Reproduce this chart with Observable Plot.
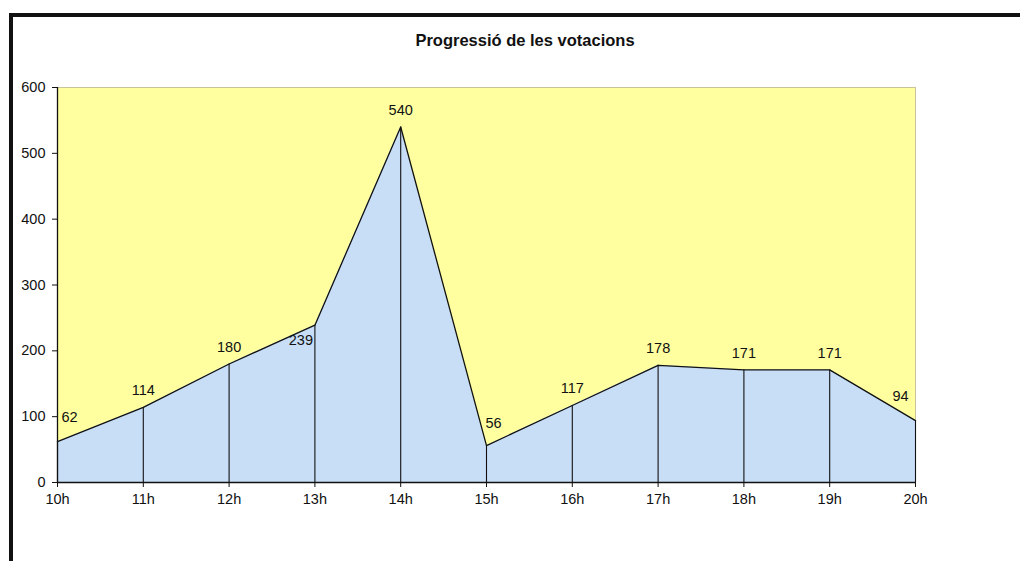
<!DOCTYPE html>
<html>
<head>
<meta charset="utf-8">
<script src="https://cdn.jsdelivr.net/npm/d3@7"></script>
<script src="https://cdn.jsdelivr.net/npm/@observablehq/plot@0.6"></script>
<style>
  html, body { margin: 0; padding: 0; background: #fff; }
  #wrap { position: relative; width: 1020px; height: 561px; overflow: hidden; font-family: "Liberation Sans", Arial, sans-serif; }
  #border { position: absolute; left: 9px; top: 13px; width: 1100px; height: 600px; border-left: 4px solid #111; border-top: 4px solid #111; }
  #title { position: absolute; left: 10px; width: 1030px; top: 30px; text-align: center; font-weight: bold; font-size: 16.5px; line-height: 20px; color: #111; }
  #chart { position: absolute; left: 0; top: 60px; }
  #chart svg text { font-size: 14.5px; }
</style>
</head>
<body>
<div id="wrap">
  <div id="border"></div>
  <div id="title">Progressió de les votacions</div>
  <div id="chart"></div>
</div>
<script>
const hours = [10, 11, 12, 13, 14, 15, 16, 17, 18, 19, 20];
const votes = [62, 114, 180, 239, 540, 56, 117, 178, 171, 171, 94];
const yTicks = [0, 100, 200, 300, 400, 500, 600];

const data = hours.map((h, i) => ({hour: h, votes: votes[i]}));

// label offsets (styling only, mimicking the original label placement)
const labelDx = (d, i) => i === 0 ? 12 : i === hours.length - 1 ? -15 : d.hour === 13 ? -14 : d.hour === 15 ? 7 : 0;
const labelDy = (d, i) => i === 0 ? -24 : i === hours.length - 1 ? -24 : d.hour === 13 ? 15 : d.hour === 15 ? -22 : -17;

const labels = data.map((d, i) => ({...d, dx: labelDx(d, i), dy: labelDy(d, i)}));

const chart = Plot.plot({
  width: 1020,
  height: 501,
  marginLeft: 57,
  marginRight: 105,
  marginTop: 27,
  marginBottom: 79,
  style: {fontFamily: "Liberation Sans, Arial, sans-serif", fontSize: "14.5px", color: "#111", background: "transparent"},
  x: {domain: [10, 20], ticks: hours, tickFormat: d => d + "h", tickSize: 5, tickPadding: 6, label: null},
  y: {domain: [0, 600], ticks: yTicks, tickSize: 5, tickPadding: 7, label: null},
  marks: [
    Plot.frame({fill: "#ffffa0", stroke: "#c9c39a", strokeWidth: 1}),
    Plot.areaY(data, {x: "hour", y: "votes", fill: "#c8def7", curve: "linear"}),
    Plot.ruleX(data, {x: "hour", y1: 0, y2: "votes", stroke: "#111", strokeWidth: 1.1}),
    Plot.line(data, {x: "hour", y: "votes", stroke: "#111", strokeWidth: 1.3}),
    Plot.ruleY([0], {stroke: "#111", strokeWidth: 1.3}),
    Plot.ruleX([10], {stroke: "#111", strokeWidth: 1.3}),
    ...labels.map(d => Plot.text([d], {x: "hour", y: "votes", text: d => String(d.votes), dx: d.dx, dy: d.dy, fill: "#111", fontSize: 14.5})),
    Plot.axisX({ticks: hours, tickFormat: d => d + "h", tickSize: 5, tickPadding: 6, stroke: "#111", fontSize: 14.5}),
    Plot.axisY({ticks: yTicks, tickSize: 5, tickPadding: 7, stroke: "#111", fontSize: 14.5})
  ]
});
document.getElementById("chart").appendChild(chart);
</script>
</body>
</html>
